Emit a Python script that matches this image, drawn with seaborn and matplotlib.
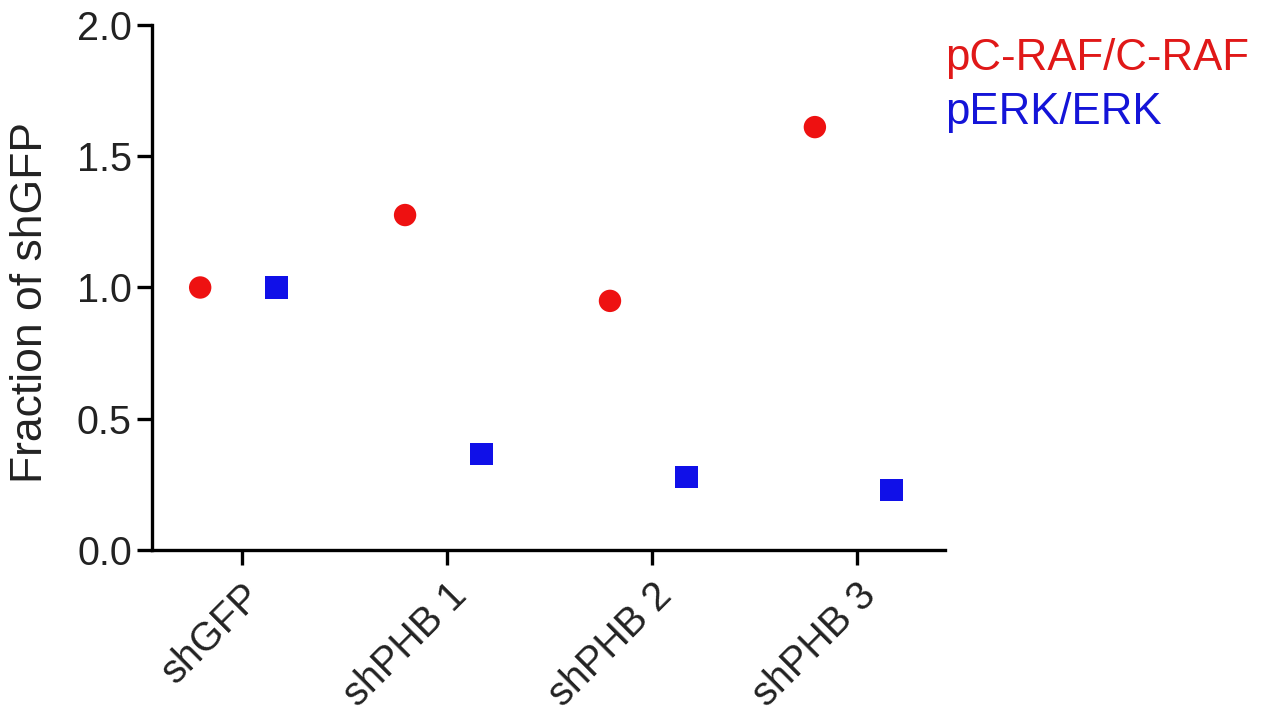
import pandas as pd
import matplotlib
matplotlib.use("Agg")
import matplotlib.pyplot as plt
import seaborn as sns

# values
groups = ["shGFP", "shPHB 1", "shPHB 2", "shPHB 3"]
craf = [1.0, 1.276, 0.949, 1.611]
erk = [1.0, 0.366, 0.278, 0.229]
series_names = ["pC-RAF/C-RAF", "pERK/ERK"]
series_colors = {"pC-RAF/C-RAF": "#EE1111", "pERK/ERK": "#1010E8"}
series_markers = {"pC-RAF/C-RAF": "o", "pERK/ERK": "s"}
offsets = {"pC-RAF/C-RAF": -0.205, "pERK/ERK": 0.168}

rows = []
for name, vals in zip(series_names, [craf, erk]):
    for i, v in enumerate(vals):
        rows.append({"pos": i + offsets[name], "value": v, "series": name})
df = pd.DataFrame(rows)

sns.set_style("ticks")
plt.rcParams["font.family"] = ["Liberation Sans", "DejaVu Sans"]

fig = plt.figure(figsize=(12.7, 7.14), dpi=100)
ax = fig.add_axes([0.1197, 0.2297, 0.6244, 0.7353])

sns.scatterplot(data=df, x="pos", y="value", hue="series", style="series",
                palette=series_colors, markers=series_markers, s=260,
                edgecolor="none", legend=False, ax=ax)

ax.set_xlim(-0.44, 3.43)
ax.set_ylim(0, 2.0)
ax.set_xticks(range(len(groups)))
ax.set_xticklabels(groups, rotation=45, ha="right", rotation_mode="anchor")
ax.set_yticks([0, 0.5, 1.0, 1.5, 2.0])
ax.set_yticklabels(["0.0", "0.5", "1.0", "1.5", "2.0"])
ax.set_xlabel("")
ax.set_ylabel("Fraction of shGFP", fontsize=32, color="#222222")
ax.yaxis.set_label_coords(-0.128, 0.472)

sns.despine(ax=ax)
for side in ["left", "bottom"]:
    ax.spines[side].set_linewidth(2.4)
    ax.spines[side].set_color("black")
ax.tick_params(axis="both", width=2.4, length=11, labelsize=28.5,
               labelcolor="#222222", color="black")
ax.tick_params(axis="x", pad=8)

fig.text(0.744, 0.918, "pC-RAF/C-RAF", color="#E01818", fontsize=31.5, va="center")
fig.text(0.744, 0.843, "pERK/ERK", color="#1414D8", fontsize=31.5, va="center")

fig.savefig("out.png", dpi=100)
